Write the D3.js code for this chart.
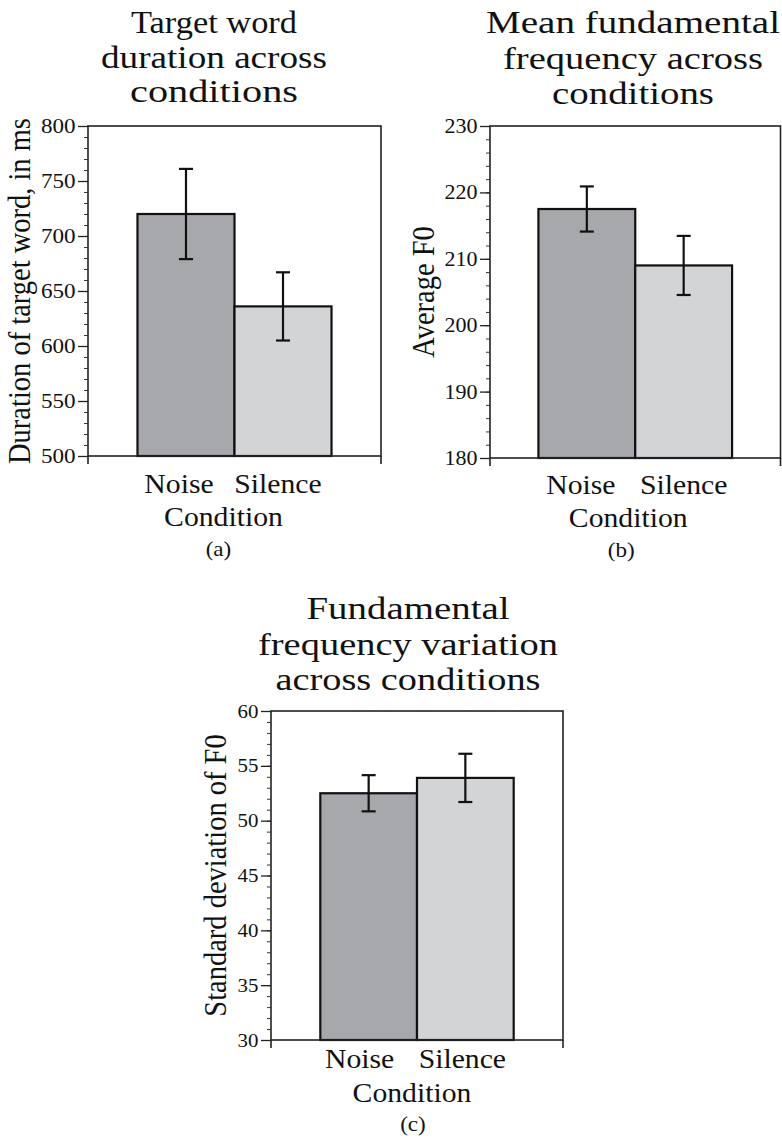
<!DOCTYPE html>
<html><head><meta charset="utf-8">
<script src="https://cdn.jsdelivr.net/npm/d3@7"></script>
<style>
body{margin:0;background:#fff}
svg{display:block}
text{font-family:"Liberation Serif","Times New Roman",serif;fill:#111}
</style>
</head><body><svg id="chart" width="782" height="1148"></svg>
<script>
// ---- data ----
const categories = ["Noise", "Silence"];
const durationMeans = [720, 636];
const durationErrors = [41, 31];
const f0Means = [217.5, 209];
const f0Errors = [3.4, 4.45];
const f0SdMeans = [52.5, 53.9];
const f0SdErrors = [1.65, 2.2];
const durationTicks = [500, 550, 600, 650, 700, 750, 800];
const f0Ticks = [180, 190, 200, 210, 220, 230];
const f0SdTicks = [30, 35, 40, 45, 50, 55, 60];
const titleA = ["Target word", "duration across", "conditions"];
const titleB = ["Mean fundamental", "frequency across", "conditions"];
const titleC = ["Fundamental", "frequency variation", "across conditions"];
const yLabelA = "Duration of target word, in ms";
const yLabelB = "Average F0";
const yLabelC = "Standard deviation of F0";
const xLabel = "Condition";
const barColors = ["#a7a8ab", "#d3d4d6"];

const svg = d3.select("#chart");
svg.append("rect").attr("width", 782).attr("height", 1148).attr("fill", "#fff");
const SX = 1.1; // horizontal stretch of the original typesetting

function stext(g, str, x, y, size, anchor) {
  return g.append("text")
    .attr("transform", `translate(${x},${y}) scale(${SX},1)`)
    .attr("text-anchor", anchor || "middle")
    .attr("font-size", size)
    .text(str);
}

function panel(cfg) {
  const g = svg.append("g");
  const y = d3.scaleLinear().domain([cfg.ticks[0], cfg.ticks[cfg.ticks.length - 1]]).range([cfg.y1, cfg.y0]);
  const x = d3.scaleBand().domain(categories).range([cfg.x0, cfg.x1]).paddingInner(0).paddingOuter(cfg.po);

  // title (each line fitted to the width it has in the original)
  cfg.title.forEach((t, i) => {
    g.append("text")
      .attr("x", cfg.titleX).attr("y", cfg.titleY[i])
      .attr("text-anchor", "middle")
      .attr("font-size", cfg.titleSize)
      .attr("textLength", cfg.titleW[i])
      .attr("lengthAdjust", "spacingAndGlyphs")
      .text(t);
  });

  // bars
  g.selectAll("rect.bar").data(categories).join("rect")
    .attr("class", "bar")
    .attr("x", d => x(d))
    .attr("width", x.bandwidth())
    .attr("y", (d, i) => y(cfg.means[i]))
    .attr("height", (d, i) => cfg.y1 - y(cfg.means[i]))
    .attr("fill", (d, i) => barColors[i])
    .attr("stroke", "#111").attr("stroke-width", 2.2);

  // frame
  g.append("rect").attr("x", cfg.x0).attr("y", cfg.y0)
    .attr("width", cfg.x1 - cfg.x0).attr("height", cfg.y1 - cfg.y0)
    .attr("fill", "none").attr("stroke", "#222").attr("stroke-width", 1.6);
  [cfg.x0, cfg.x1].forEach(xx => g.append("line")
    .attr("x1", xx).attr("x2", xx).attr("y1", cfg.y1).attr("y2", cfg.y1 + 8)
    .attr("stroke", "#222").attr("stroke-width", 1.6));

  // error bars
  const eb = g.selectAll("g.err").data(categories).join("g").attr("class", "err");
  const cx = d => x(d) + x.bandwidth() / 2;
  eb.append("line").attr("x1", cx).attr("x2", cx)
    .attr("y1", (d, i) => y(cfg.means[i] + cfg.errs[i]))
    .attr("y2", (d, i) => y(cfg.means[i] - cfg.errs[i]));
  eb.append("line").attr("x1", d => cx(d) - 7).attr("x2", d => cx(d) + 7)
    .attr("y1", (d, i) => y(cfg.means[i] + cfg.errs[i]))
    .attr("y2", (d, i) => y(cfg.means[i] + cfg.errs[i]));
  eb.append("line").attr("x1", d => cx(d) - 7).attr("x2", d => cx(d) + 7)
    .attr("y1", (d, i) => y(cfg.means[i] - cfg.errs[i]))
    .attr("y2", (d, i) => y(cfg.means[i] - cfg.errs[i]));
  eb.selectAll("line").attr("stroke", "#111").attr("stroke-width", 2.2);

  // minor ticks
  const lo = cfg.ticks[0], hi = cfg.ticks[cfg.ticks.length - 1];
  const minorVals = d3.range(lo, hi + cfg.minor / 2, cfg.minor);
  const minorAxis = g.append("g").attr("transform", `translate(${cfg.x0},0)`)
    .call(d3.axisLeft(y).tickValues(minorVals).tickSize(4).tickFormat(""));
  minorAxis.select(".domain").remove();
  minorAxis.selectAll("line").attr("stroke", "#333").attr("stroke-width", 1);

  // major ticks
  const ax = g.append("g").attr("transform", `translate(${cfg.x0},0)`)
    .call(d3.axisLeft(y).tickValues(cfg.ticks).tickSize(10).tickPadding(2).tickFormat(d3.format("d")));
  ax.select(".domain").remove();
  ax.selectAll("line").attr("stroke", "#222").attr("stroke-width", 1.3);
  ax.selectAll("text")
    .attr("font-size", cfg.tickSize)
    .attr("fill", "#111")
    .attr("transform", `scale(${SX},1)`)
    .attr("x", -12.5 / SX);

  // category labels
  categories.forEach((c, i) => stext(g, c, x(c) + x.bandwidth() / 2 + cfg.catDx[i], cfg.y1 + cfg.catDy, 27));
  const fc = (cfg.x0 + cfg.x1) / 2;
  stext(g, xLabel, fc + cfg.condDx, cfg.y1 + cfg.condDy, 27);
  stext(g, cfg.letter, fc + cfg.letterDx, cfg.y1 + cfg.letterDy, 21);

  // y label
  g.append("text")
    .attr("transform", `translate(${cfg.ylx},${(cfg.y0 + cfg.y1) / 2}) scale(${SX},1) rotate(-90)`)
    .attr("text-anchor", "middle").attr("font-size", 28.5).text(cfg.ylabel);
}

panel({
  x0: 88, x1: 381, y0: 126, y1: 456, po: 0.51,
  ticks: durationTicks, minor: 10, means: durationMeans, errs: durationErrors, tickSize: 21,
  title: titleA, titleX: 214, titleY: [33, 67.5, 102], titleSize: 31, titleW: [166, 226, 168],
  catDx: [-7, -5], catDy: 37, condDx: -11, condDy: 70, letter: "(a)", letterDx: -16, letterDy: 100,
  ylabel: yLabelA, ylx: 30
});
panel({
  x0: 490, x1: 780.5, y0: 126, y1: 458, po: 0.5,
  ticks: f0Ticks, minor: 2, means: f0Means, errs: f0Errors, tickSize: 20,
  title: titleB, titleX: 633, titleY: [33, 68.5, 104], titleSize: 32, titleW: [294, 260, 162],
  catDx: [-6, 0], catDy: 36, condDx: -7, condDy: 69, letter: "(b)", letterDx: -14, letterDy: 99,
  ylabel: yLabelB, ylx: 434
});
panel({
  x0: 271, x1: 563, y0: 711, y1: 1040, po: 0.51,
  ticks: f0SdTicks, minor: 1, means: f0SdMeans, errs: f0SdErrors, tickSize: 19,
  title: titleC, titleX: 408, titleY: [619, 654.5, 690], titleSize: 32, titleW: [203, 300, 265],
  catDx: [-9, -3], catDy: 28, condDx: -5, condDy: 62, letter: "(c)", letterDx: -4, letterDy: 91,
  ylabel: yLabelC, ylx: 226
});
</script>
</body></html>
